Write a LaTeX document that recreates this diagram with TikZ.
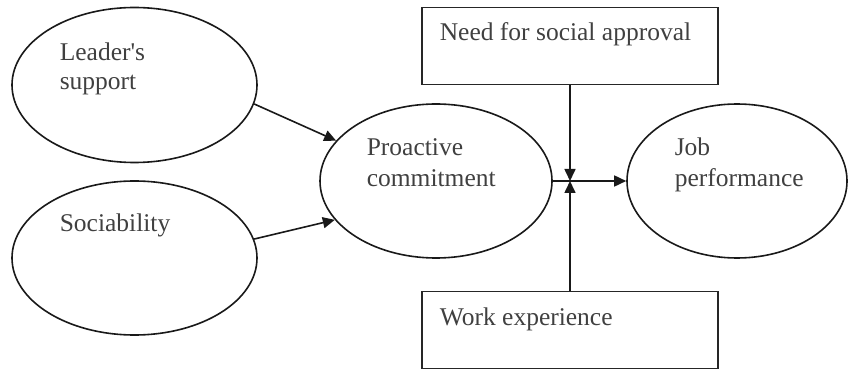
\documentclass[tikz,border=0pt]{standalone}
\usepackage{fontspec}
\setmainfont{Liberation Serif}[Ligatures=TeXOff]
\usetikzlibrary{shapes.geometric,arrows.meta}
\begin{document}
\begin{tikzpicture}[x=1pt,y=-1pt,
  line width=1.6pt,
  oval/.style={draw=black!90, ellipse, inner sep=0pt},
  framebox/.style={draw=black!85, rectangle, inner sep=0pt, minimum width=296pt, minimum height=77pt},
  lbl/.style={anchor=base west, inner sep=0pt, align=left, text=black!75,
              font=\fontsize{25.5}{30}\selectfont},
  link/.style={draw=black!90, -{Triangle[length=12pt,width=11pt]}}]
\useasboundingbox (0,0) rectangle (848,371);

% ovals
\node[oval, minimum width=245pt, minimum height=155pt] (leader) at (134.5,85) {};
\node[oval, minimum width=245pt, minimum height=154pt] (soc) at (134.5,258) {};
\node[oval, minimum width=232pt, minimum height=154pt] (pro) at (436,181) {};
\node[oval, minimum width=220pt, minimum height=154pt] (job) at (737,181) {};

% moderator boxes
\node[framebox] (need) at (570,46) {};
\node[framebox] (work) at (570,330) {};

% labels
\node[lbl] (leader-t) at (59,61) {Leader's};
\node[lbl] (leader-t2) at (59,90) {support};
\node[lbl] (soc-t) at (59,232) {Sociability};
\node[lbl] (pro-t) at (366,156) {Proactive};
\node[lbl] (pro-t2) at (366,187) {commitment};
\node[lbl] (job-t) at (674,156) {Job};
\node[lbl] (job-t2) at (674,187) {performance};
\node[lbl] (need-t) at (439,41) {Need for social approval};
\node[lbl] (work-t) at (439,325) {Work experience};

% paths
\coordinate (mod) at (570,181);
\draw[link] (leader.-9) -- (pro.158);
\draw[link] (soc.9) -- (pro.-159);
\draw[link] (pro.east) -- (job.west);
\draw[link] (need.south) -- (mod);
\draw[link] (work.north) -- (mod);
\end{tikzpicture}
\end{document}
